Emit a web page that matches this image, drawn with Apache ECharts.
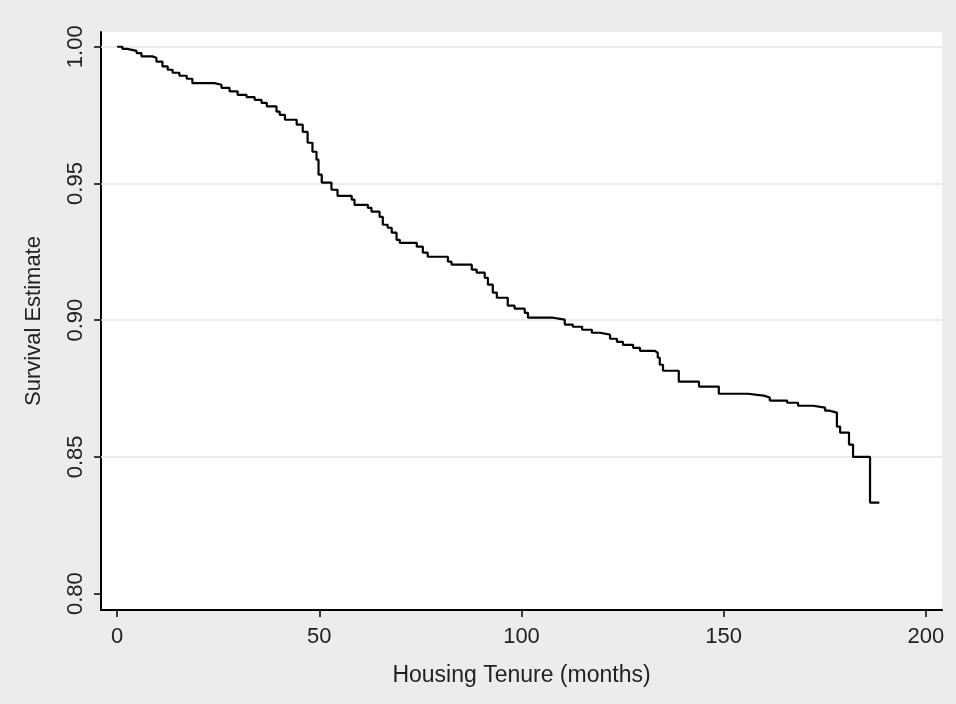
<!DOCTYPE html>
<html>
<head>
<meta charset="utf-8">
<script src="https://cdn.jsdelivr.net/npm/echarts@6/dist/echarts.min.js"></script>
<style>
html,body{margin:0;padding:0;background:#ececec;}
#chart{width:956px;height:704px;}
</style>
</head>
<body>
<div id="chart"></div>
<script>
// Kaplan-Meier step times (months) and survival estimates after each step
const months = [0, 1.3, 2.5, 4.8, 6.0, 8.7, 9.7, 11.2, 12.5, 13.7, 15.4, 17.2, 18.6, 24.1, 25.8, 27.8, 29.8, 32.0, 34.0, 35.7, 37.0, 39.4, 40.2, 41.5, 44.4, 45.9, 47.1, 48.3, 49.3, 49.8, 50.6, 53.0, 54.5, 58.0, 58.7, 62.0, 62.9, 64.9, 65.7, 66.9, 67.9, 69.1, 69.9, 74.1, 75.6, 76.8, 81.8, 82.7, 87.7, 88.9, 90.9, 91.7, 92.9, 93.9, 96.6, 98.3, 100.8, 101.6, 107.8, 110.7, 112.7, 115.0, 117.4, 119.4, 121.9, 123.6, 125.1, 127.6, 129.3, 133.0, 133.7, 134.2, 135.0, 138.9, 143.9, 148.8, 156.0, 159.9, 161.4, 165.7, 168.4, 172.1, 175.1, 176.1, 178.0, 178.8, 181.0, 182.0, 186.2, 188.5];
const survival = [1.0000, 0.9992, 0.9985, 0.9977, 0.9965, 0.9960, 0.9946, 0.9928, 0.9916, 0.9905, 0.9894, 0.9883, 0.9867, 0.9861, 0.9850, 0.9837, 0.9824, 0.9816, 0.9806, 0.9795, 0.9782, 0.9763, 0.9751, 0.9733, 0.9715, 0.9689, 0.9649, 0.9616, 0.9587, 0.9532, 0.9503, 0.9477, 0.9455, 0.9441, 0.9422, 0.9411, 0.9397, 0.9378, 0.9349, 0.9338, 0.9320, 0.9294, 0.9283, 0.9269, 0.9247, 0.9232, 0.9214, 0.9203, 0.9185, 0.9174, 0.9155, 0.9130, 0.9101, 0.9082, 0.9053, 0.9042, 0.9027, 0.9009, 0.9002, 0.8984, 0.8976, 0.8965, 0.8954, 0.8947, 0.8932, 0.8921, 0.8910, 0.8899, 0.8888, 0.8881, 0.8863, 0.8837, 0.8815, 0.8775, 0.8757, 0.8731, 0.8724, 0.8717, 0.8706, 0.8698, 0.8687, 0.8680, 0.8669, 0.8662, 0.8611, 0.8589, 0.8545, 0.8500, 0.8333, 0.8333];
const xTicks = [0, 50, 100, 150, 200];
const yTicks = [0.80, 0.85, 0.90, 0.95, 1.00];
const yGrid = [0.85, 0.90, 0.95, 1.00];

const FONT = '"Liberation Sans", Arial, sans-serif';
const TXT = '#222';
const chart = echarts.init(document.getElementById('chart'));
chart.setOption({
  animation: false,
  backgroundColor: '#ececec',
  grid: {left: 101, top: 32, right: 14, bottom: 94, show: true, backgroundColor: '#ffffff', borderWidth: 0},
  xAxis: {
    type: 'value', min: -4, max: 204,
    name: 'Housing Tenure (months)', nameLocation: 'middle', nameGap: 54,
    nameTextStyle: {fontFamily: FONT, fontSize: 23, color: TXT},
    axisLine: {show: true, onZero: false, lineStyle: {color: '#000', width: 2}},
    axisTick: {show: true, length: 7, lineStyle: {color: '#000', width: 1.5}, customValues: xTicks},
    axisLabel: {fontFamily: FONT, fontSize: 22, color: TXT, margin: 16, customValues: xTicks,
      formatter: v => String(v)},
    splitLine: {show: false}
  },
  yAxis: {
    type: 'value', min: 0.794, max: 1.0054,
    name: 'Survival Estimate', nameLocation: 'middle', nameGap: 56, nameRotate: 90,
    nameTextStyle: {fontFamily: FONT, fontSize: 22, color: TXT},
    axisLine: {show: true, onZero: false, lineStyle: {color: '#000', width: 2}},
    axisTick: {show: true, length: 7, lineStyle: {color: '#000', width: 1.5}, customValues: yTicks},
    axisLabel: {fontFamily: FONT, fontSize: 22, color: TXT, margin: 14, rotate: 90, customValues: yTicks,
      formatter: v => v.toFixed(2)},
    splitLine: {show: false}
  },
  series: [
    {
      type: 'line', data: [], silent: true,
      markLine: {
        silent: true, symbol: 'none', z: 1, animation: false,
        label: {show: false},
        lineStyle: {color: '#e4e4e4', width: 1.5, type: 'solid'},
        data: yGrid.map(v => ({yAxis: v}))
      }
    },
    {
      type: 'line', z: 10, step: 'end', showSymbol: false, symbol: 'none',
      data: months.map((m, i) => [m, survival[i]]),
      lineStyle: {color: '#000', width: 2.2}
    }
  ]
});
</script>
</body>
</html>
